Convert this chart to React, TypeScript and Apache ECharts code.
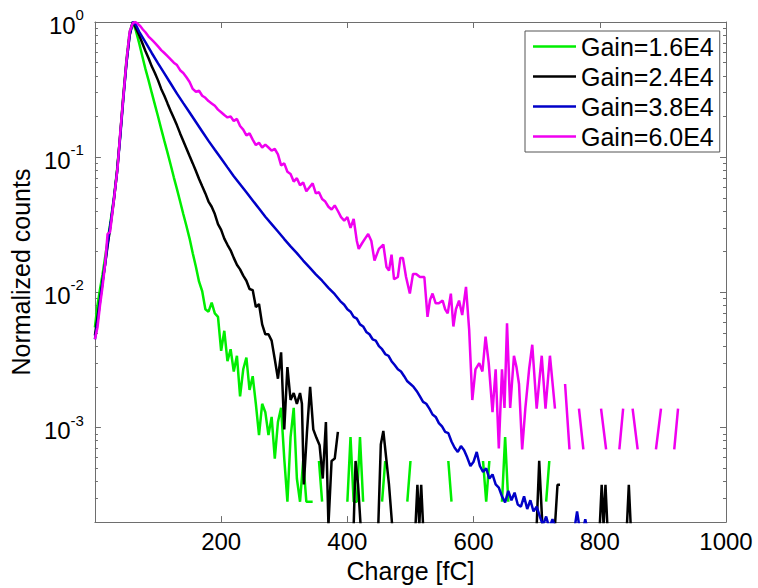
import React, { useEffect, useRef } from 'react';
import * as echarts from 'echarts';

const FONT = '"Liberation Sans", Arial, Helvetica, sans-serif';

const seriesNames = ['Gain=1.6E4', 'Gain=2.4E4', 'Gain=3.8E4', 'Gain=6.0E4'];
const seriesColors = ['#00ee00', '#000000', '#0000c8', '#f000f0'];

const xTicks = [0, 200, 400, 600, 800, 1000];
const yMajorTicks = [1e-3, 1e-2, 1e-1, 1];
const yMinorTicks = [
  3e-4, 4e-4, 5e-4, 6e-4, 7e-4, 8e-4, 9e-4,
  2e-3, 3e-3, 4e-3, 5e-3, 6e-3, 7e-3, 8e-3, 9e-3,
  2e-2, 3e-2, 4e-2, 5e-2, 6e-2, 7e-2, 8e-2, 9e-2,
  0.2, 0.3, 0.4, 0.5, 0.6, 0.7, 0.8, 0.9,
];

type P = [number, number | null];

const gain16: P[] = [
  [0, 0.0055], [4, 0.008], [8, 0.0105], [12, 0.0135], [16, 0.018], [20, 0.024], [25, 0.034], [30, 0.05], [35, 0.08], [40, 0.145], [45, 0.29], [50, 0.53], [55, 0.84], [60, 1.0],
  [65, 0.86], [70, 0.7], [75, 0.56], [80, 0.45], [85, 0.37], [90, 0.3], [95, 0.245], [100, 0.2], [105, 0.162], [110, 0.132], [115, 0.108], [120, 0.088], [125, 0.071], [130, 0.058], [135, 0.047], [140, 0.038], [145, 0.031], [150, 0.025], [155, 0.0195], [160, 0.0155], [165, 0.012], [170, 0.0102], [175, 0.0075], [180, 0.0072], [185, 0.0084], [190, 0.007], [195, 0.0066], [200, 0.0037], [205, 0.0052], [210, 0.0031], [215, 0.0038], [220, 0.0026], [225, 0.0034], [230, 0.0017], [235, 0.0027], [240, 0.0033], [245, 0.0019], [250, 0.0024], [255, 0.0015], [260, 0.00088], [265, 0.0015], [270, 0.0013], [275, 0.00088], [280, 0.0012], [285, 0.00059], [290, 0.0011], [295, 0.0014], [300, 0.00059], [305, 0.000283], [310, 0.00085], [315, 0.0014], [320, 0.00042], [325, 0.000283], [330, 0.00057], [335, 0.000283], [340, 0.000283], [345, 0.000283], [350, null],
  [355, 0.000566], [360, 0.000283], [365, null],
  [400, 0.000283], [405, 0.00085], [410, 0.000283], [415, 0.000283], [420, 0.00085], [425, 0.000283], [430, null],
  [455, 0.000283], [460, 0.000566], [465, null],
  [495, 0.000283], [500, 0.000566], [505, null],
  [560, 0.000566], [565, 0.000283], [570, null],
  [615, 0.000566], [620, 0.000283], [625, 0.000566], [630, null],
  [645, 0.000283], [650, 0.00085], [655, 0.000283], [660, null],
  [715, 0.000283], [720, 0.000566], [725, null],
];

const gain24: P[] = [
  [0, 0.0048], [4, 0.0065], [8, 0.0088], [12, 0.012], [16, 0.016], [20, 0.022], [25, 0.032], [30, 0.048], [35, 0.078], [40, 0.145], [45, 0.28], [50, 0.5], [55, 0.8], [60, 1.0],
  [65, 0.9], [70, 0.8], [75, 0.7], [80, 0.61], [85, 0.54], [90, 0.47], [95, 0.42], [100, 0.37], [105, 0.32], [110, 0.285], [115, 0.25], [120, 0.22], [125, 0.195], [130, 0.172], [135, 0.15], [140, 0.132], [145, 0.116], [150, 0.102], [155, 0.09], [160, 0.079], [165, 0.069], [170, 0.061], [175, 0.054], [180, 0.047], [185, 0.043], [190, 0.038], [195, 0.032], [200, 0.029], [205, 0.025], [210, 0.0225], [215, 0.0205], [220, 0.018], [225, 0.016], [230, 0.0148], [235, 0.0133], [240, 0.0122], [245, 0.0106], [250, 0.0104], [255, 0.0078], [260, 0.0082], [265, 0.0058], [270, 0.0049], [275, 0.0049], [280, 0.0044], [285, 0.0032], [290, 0.0023], [295, 0.0036], [300, 0.00097], [305, 0.0028], [310, 0.0016], [315, 0.0018], [320, 0.0015], [325, 0.0018], [328, 0.0015], [331, 0.00038], [336, 0.00093], [341, 0.002], [346, 0.00097], [351, 0.00084], [356, 0.00074], [361, 0.00042], [366, 0.0011], [370, 0.000189], [375, 0.000567], [380, 0.00059], [385, 0.00093], [390, null],
  [410, 0.000189], [413, 0.000567], [417, 0.000378], [421, 0.000189], [425, null],
  [449, 0.000189], [453, 0.00075], [457, 0.000945], [462, 0.000567], [466, 0.000378], [471, 0.000189], [475, null],
  [508, 0.000189], [511, 0.000378], [514, 0.000189], [517, 0.000378], [520, 0.000189], [524, null],
  [700, 0.000189], [704, 0.000567], [709, 0.000189], [713, null],
  [729, 0.000189], [733, 0.000378], [737, 0.000378], [740, null],
  [800, 0.000189], [803, 0.000378], [806, 0.000189], [809, 0.000378], [812, 0.000189], [815, null],
  [843, 0.000189], [846, 0.000378], [849, 0.000189], [852, null],
];

const gain38: P[] = [
  [0, 0.0045], [4, 0.006], [8, 0.0085], [12, 0.0118], [16, 0.016], [20, 0.023], [25, 0.033], [30, 0.049], [35, 0.077], [40, 0.14], [45, 0.27], [50, 0.5], [55, 0.8], [60, 1.0],
  [65, 0.95], [70, 0.85], [80, 0.71], [90, 0.59], [100, 0.495], [110, 0.417], [120, 0.351], [130, 0.295], [140, 0.251], [150, 0.214], [160, 0.182], [170, 0.155], [180, 0.132], [190, 0.1135], [200, 0.0977], [210, 0.0841], [220, 0.0724], [230, 0.0631], [240, 0.055], [250, 0.0479], [260, 0.0417], [270, 0.0363], [280, 0.032], [290, 0.0282], [300, 0.0248], [310, 0.0219], [320, 0.0195], [330, 0.0172], [340, 0.0153], [350, 0.0136], [360, 0.0122], [370, 0.0108], [380, 0.0097], [390, 0.0085], [395, 0.0081], [400, 0.0075], [405, 0.0072], [410, 0.0066], [415, 0.0064], [420, 0.0058], [425, 0.0056], [430, 0.0051], [435, 0.0049], [440, 0.0045], [445, 0.0044], [450, 0.004], [455, 0.0038], [460, 0.0035], [465, 0.0034], [470, 0.0031], [475, 0.0029], [480, 0.0027], [485, 0.0026], [490, 0.0024], [495, 0.0022], [500, 0.0021], [505, 0.002], [510, 0.00186], [515, 0.0017], [520, 0.00155], [525, 0.0015], [530, 0.00138], [535, 0.00125], [540, 0.0012], [545, 0.00108], [550, 0.00102], [555, 0.00093], [560, 0.00091], [565, 0.00079], [570, 0.00071], [575, 0.00066], [580, 0.00073], [585, 0.00068], [590, 0.0006], [595, 0.00052], [600, 0.00056], [605, 0.00066], [610, 0.00052], [615, 0.00047], [620, 0.0005], [625, 0.00042], [630, 0.00045], [635, 0.00038], [640, 0.00036], [645, 0.00031], [650, 0.00028], [655, 0.00034], [660, 0.00029], [665, 0.00033], [670, 0.00027], [675, 0.00026], [680, 0.00031], [685, 0.00025], [690, 0.00029], [695, 0.00024], [700, 0.00026], [705, 0.00022], [710, 0.00019], [715, 0.00022], [720, 0.00018], [725, 0.00021], [730, 0.00018], [735, 0.00017], [740, null],
  [760, 0.00018], [764, 0.00024], [768, 0.00018], [771, null], [774, 0.00018], [777, 0.00021], [780, 0.00018], [783, null],
];

const gain60: P[] = [
  [0, 0.0045], [4, 0.0055], [8, 0.008], [12, 0.011], [16, 0.016], [20, 0.027], [24, 0.028], [28, 0.04], [32, 0.058], [36, 0.085], [40, 0.15], [45, 0.28], [50, 0.52], [55, 0.85], [60, 0.98], [64, 1.0], [68, 0.97],
  [72, 0.93], [76, 0.88], [80, 0.84], [85, 0.78], [90, 0.74], [95, 0.7], [100, 0.66], [105, 0.62], [110, 0.59], [115, 0.56], [120, 0.53], [125, 0.5], [130, 0.48], [135, 0.44], [140, 0.42], [145, 0.39], [150, 0.36], [155, 0.32], [160, 0.305], [165, 0.31], [170, 0.285], [175, 0.275], [180, 0.26], [185, 0.25], [190, 0.24], [195, 0.225], [200, 0.215], [205, 0.205], [210, 0.197], [215, 0.2], [220, 0.185], [225, 0.192], [230, 0.17], [235, 0.16], [240, 0.145], [245, 0.15], [250, 0.135], [255, 0.123], [260, 0.128], [265, 0.118], [270, 0.124], [275, 0.118], [280, 0.112], [285, 0.115], [290, 0.105], [295, 0.087], [300, 0.09], [305, 0.078], [310, 0.075], [315, 0.066], [320, 0.07], [325, 0.062], [330, 0.065], [335, 0.056], [340, 0.06], [345, 0.064], [350, 0.054], [355, 0.055], [360, 0.049], [365, 0.047], [370, 0.043], [375, 0.041], [380, 0.044], [385, 0.04], [390, 0.036], [395, 0.034], [400, 0.036], [405, 0.03], [410, 0.035], [415, 0.024], [418, 0.021], [423, 0.023], [428, 0.025], [433, 0.027], [438, 0.024], [443, 0.0172], [450, 0.021], [457, 0.0226], [462, 0.0154], [466, 0.0145], [470, 0.019], [474, 0.0125], [480, 0.013], [484, 0.018], [488, 0.018], [493, 0.013], [499, 0.0098], [504, 0.0137], [509, 0.0137], [515, 0.013], [522, 0.013], [527, 0.0066], [531, 0.0088], [535, 0.0098], [540, 0.0083], [545, 0.0083], [551, 0.0087], [555, 0.0075], [559, 0.007], [564, 0.0098], [568, 0.0056], [572, 0.0075], [577, 0.0087], [582, 0.0068], [588, 0.011], [593, 0.0053], [598, 0.0016], [603, 0.0027], [609, 0.003], [614, 0.0026], [619, 0.0047], [624, 0.003], [630, 0.0013], [635, 0.0027], [640, 0.0007], [645, 0.0027], [649, 0.0014], [653, 0.0059], [658, 0.0014], [664, 0.0034], [668, 0.0028], [672, 0.0021], [677, 0.00069], [682, 0.00138], [688, 0.0027], [693, 0.0041], [700, 0.00138], [708, 0.0034], [714, 0.00138], [721, 0.0034], [729, 0.00138], [735, null],
  [745, 0.0021], [752, 0.00069], [758, null],
  [767, 0.00138], [774, 0.00069], [780, null],
  [802, 0.00138], [810, 0.00069], [815, null],
  [831, 0.00069], [837, 0.00138], [842, null],
  [852, 0.00138], [860, 0.00069], [865, null],
  [889, 0.00069], [897, 0.00138], [902, null],
  [918, 0.00069], [924, 0.00138], [930, null],
];

const seriesData = [gain16, gain24, gain38, gain60];

const AX = '#6e6e6e';

export default function App() {
  const ref = useRef<HTMLDivElement>(null);
  useEffect(() => {
    const chart = echarts.init(ref.current!, null, { renderer: 'svg' });
    const yLim = { min: 2e-4, max: 1, logBase: 10 };
    const option: any = {
      animation: false,
      backgroundColor: '#ffffff',
      textStyle: { fontFamily: FONT },
      grid: { left: 90, right: 32, top: 22, bottom: 63, containLabel: false },
      legend: {
        orient: 'vertical',
        left: 525,
        top: 31,
        data: seriesNames.map((n) => ({ name: n, icon: 'rect' })),
        backgroundColor: '#ffffff',
        borderColor: '#555555',
        borderWidth: 1,
        padding: [3, 6, 3, 8],
        itemWidth: 43,
        itemHeight: 2.5,
        itemGap: 5,
        textStyle: { fontSize: 25, color: '#000', fontFamily: FONT, lineHeight: 25 },
      },
      xAxis: [
        {
          type: 'value', position: 'bottom', min: 0, max: 1000, interval: 200,
          axisLine: { show: true, lineStyle: { color: AX, width: 1 } },
          axisTick: { show: true, inside: true, length: 6, lineStyle: { color: AX }, customValues: xTicks },
          axisLabel: {
            show: true, fontSize: 24, color: '#000', fontFamily: FONT, margin: 7,
            customValues: xTicks.slice(1),
            formatter: (v: number) => String(v),
          },
          splitLine: { show: false },
          name: 'Charge [fC]', nameLocation: 'middle', nameGap: 30,
          nameTextStyle: { fontSize: 25, color: '#000', fontFamily: FONT },
        },
        {
          type: 'value', position: 'top', min: 0, max: 1000, interval: 200,
          axisLine: { show: true, lineStyle: { color: AX, width: 1 } },
          axisTick: { show: true, inside: true, length: 6, lineStyle: { color: AX }, customValues: xTicks },
          axisLabel: { show: false },
          splitLine: { show: false },
        },
      ],
      yAxis: [
        {
          type: 'log', position: 'left', ...yLim,
          axisLine: { show: true, lineStyle: { color: AX, width: 1 } },
          axisTick: { show: true, inside: true, length: 6, lineStyle: { color: AX }, customValues: yMajorTicks },
          axisLabel: {
            show: true, margin: 11, customValues: yMajorTicks,
            formatter: (v: number) => `{b|10}{s|${Math.round(Math.log10(v))}}`,
            rich: {
              b: { fontSize: 24, color: '#000', fontFamily: FONT, lineHeight: 30, verticalAlign: 'bottom' },
              s: { fontSize: 15, color: '#000', fontFamily: FONT, lineHeight: 15, verticalAlign: 'top' },
            },
          },
          splitLine: { show: false },
          minorTick: { show: false },
          name: 'Normalized counts', nameLocation: 'middle', nameGap: 56, nameRotate: 90,
          nameTextStyle: { fontSize: 25, color: '#000', fontFamily: FONT },
        },
        {
          type: 'log', position: 'left', ...yLim,
          axisLine: { show: false },
          axisTick: { show: true, inside: true, length: 3, lineStyle: { color: AX }, customValues: yMinorTicks },
          axisLabel: { show: false },
          splitLine: { show: false },
        },
        {
          type: 'log', position: 'right', ...yLim,
          axisLine: { show: true, lineStyle: { color: AX, width: 1 } },
          axisTick: { show: true, inside: true, length: 6, lineStyle: { color: AX }, customValues: yMajorTicks },
          axisLabel: { show: false },
          splitLine: { show: false },
        },
        {
          type: 'log', position: 'right', ...yLim,
          axisLine: { show: false },
          axisTick: { show: true, inside: true, length: 3, lineStyle: { color: AX }, customValues: yMinorTicks },
          axisLabel: { show: false },
          splitLine: { show: false },
        },
      ],
      series: seriesNames.map((name, i) => ({
        name,
        type: 'line',
        xAxisIndex: 0,
        yAxisIndex: 0,
        data: seriesData[i],
        symbol: 'none',
        showSymbol: false,
        connectNulls: false,
        clip: true,
        lineStyle: { color: seriesColors[i], width: 2.5 },
        itemStyle: { color: seriesColors[i] },
        z: 2 + i,
      })),
    };
    chart.setOption(option);
    return () => chart.dispose();
  }, []);
  return (
    <div
      ref={ref}
      style={{ position: 'fixed', left: 0, top: 0, width: 758, height: 588, background: '#fff' }}
    />
  );
}
